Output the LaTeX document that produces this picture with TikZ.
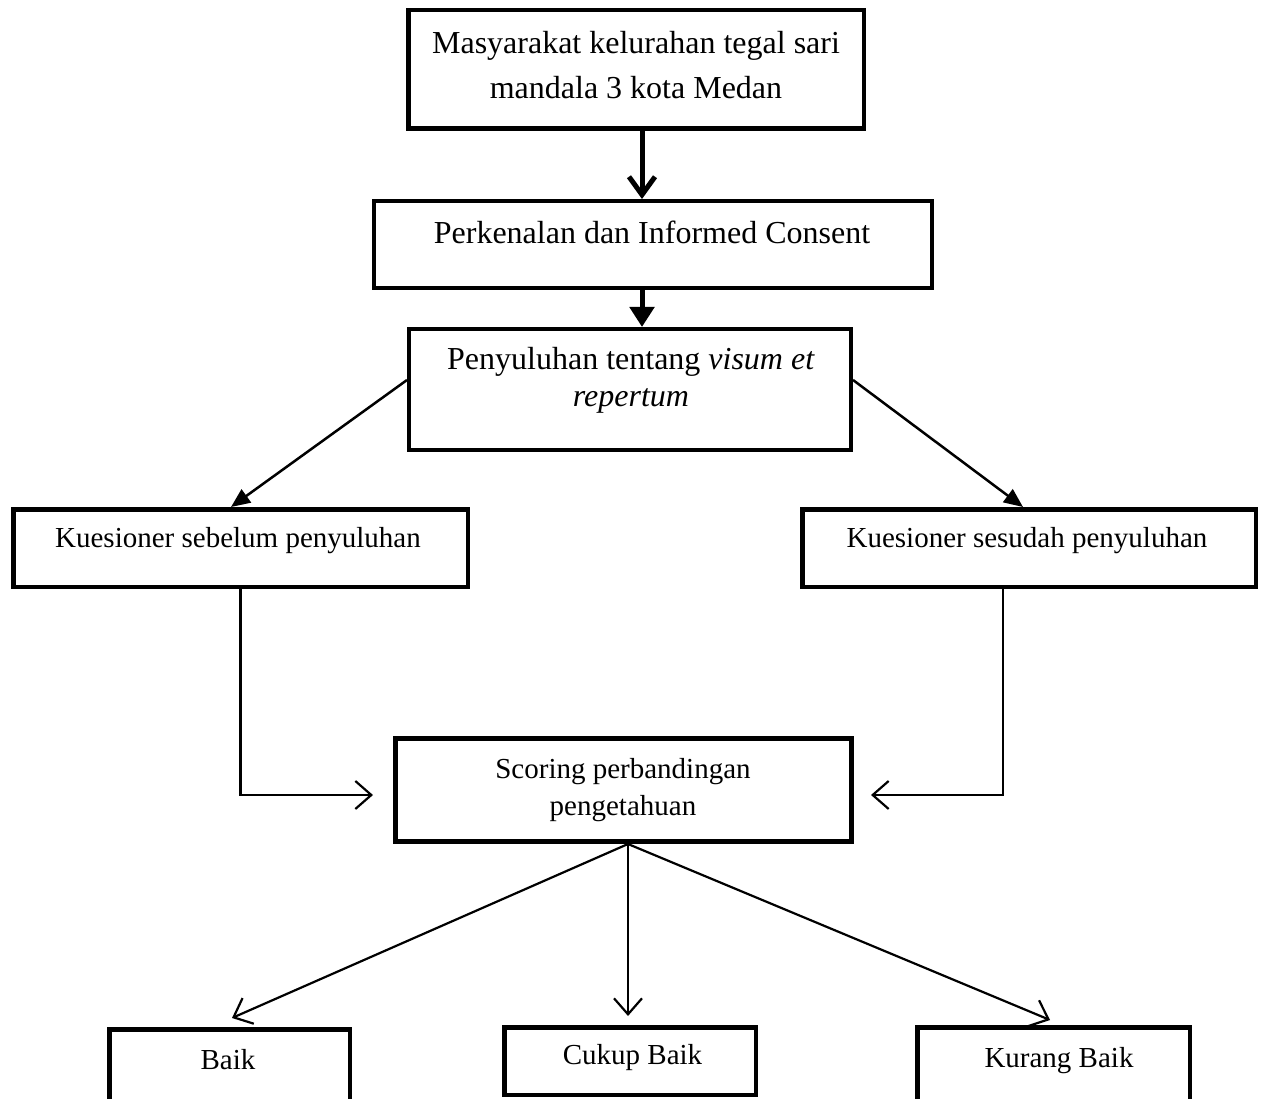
\documentclass[tikz,border=0pt]{standalone}
\usepackage{fontspec}
\setmainfont{Liberation Serif}
\usetikzlibrary{arrows.meta}
\begin{document}
\begin{tikzpicture}[x=1pt,y=-1pt,
  box/.style={draw=black,rectangle,inner sep=0pt},
  txt/.style={inner sep=0pt,align=center,font=\fontsize{29}{37}\selectfont},
  bigtxt/.style={inner sep=0pt,align=center,font=\fontsize{32}{45}\selectfont},
  thinline/.style={line width=2.2pt},
  openarrow/.style={-{Straight Barb[length=16pt,width=28pt]}},
  fillarrow/.style={-{Triangle[length=19pt,width=16pt]}},
]
\useasboundingbox (0,0) rectangle (1262,1099);
\fill[white] (0,0) rectangle (1262,1099);

% boxes
\node[box,line width=4.5pt,minimum width=455.5pt,minimum height=118.5pt] (b1) at (636,69.5) {};
\node[box,line width=4pt,minimum width=558pt,minimum height=87pt] (b2) at (653,244.5) {};
\node[box,line width=4pt,minimum width=442pt,minimum height=121pt] (b3) at (630,389.5) {};
\node[box,line width=4.5pt,minimum width=454.5pt,minimum height=77.5pt] (k1) at (240.5,548) {};
\node[box,line width=4.5pt,minimum width=453.5pt,minimum height=77.5pt] (k2) at (1029,548) {};
\node[box,line width=5pt,minimum width=456pt,minimum height=103pt] (sc) at (623.5,790) {};
\node[box,line width=4.5pt,minimum width=240.5pt,minimum height=71.5pt] (baik) at (229.5,1065) {};
\node[box,line width=4.5pt,minimum width=251.5pt,minimum height=67.5pt] (cukup) at (630,1061) {};
\node[box,line width=4.5pt,minimum width=272.5pt,minimum height=73.5pt] (kurang) at (1053.5,1064) {};

% texts
\node[bigtxt] (t1) at (636,65.5) {Masyarakat kelurahan tegal sari\\mandala 3 kota Medan};
\node[bigtxt] (t2) at (652,232) {Perkenalan dan Informed Consent};
\node[bigtxt,font=\fontsize{32}{37}\selectfont] (t3) at (631,380) {Penyuluhan tentang \textit{visum et}\\\textit{repertum}};
\node[txt] (tk1) at (238,541) {Kuesioner sebelum penyuluhan};
\node[txt] (tk2) at (1027,541) {Kuesioner sesudah penyuluhan};
\node[txt] (tsc) at (623,790) {Scoring perbandingan\\pengetahuan};
\node[txt] (tbaik) at (228,1060) {Baik};
\node[txt] (tcukup) at (632.5,1058) {Cukup Baik};
\node[txt] (tkurang) at (1059,1061) {Kurang Baik};

% connectors
\coordinate (ax) at (642,0);
\draw[line width=5pt,-{Straight Barb[length=18pt,width=26pt]}] (b1.south -| ax) -- (b2.north -| ax);
\draw[line width=5pt,-{Triangle[length=20pt,width=24pt]}] (b2.south -| ax) -- (b3.north -| ax);

\draw[line width=2.5pt,fillarrow] ([yshift=9.5pt]b3.west) -- ([xshift=-9.5pt]k1.north);
\draw[line width=2.5pt,fillarrow] ([yshift=9.5pt]b3.east) -- ([xshift=-6pt]k2.north);

\draw[thinline,openarrow] (k1.south) |- ([xshift=-20pt,yshift=-5pt]sc.west);
\draw[thinline,openarrow] ([xshift=-26pt]k2.south) |- ([xshift=17pt,yshift=-5pt]sc.east);

\coordinate (fan) at ([xshift=4.5pt]sc.south);
\draw[thinline,openarrow] (fan) -- ([xshift=2.5pt,yshift=9pt]baik.north);
\draw[thinline,openarrow] (fan) -- ([xshift=-2pt,yshift=9pt]cukup.north);
\draw[thinline,openarrow] (fan) -- ([xshift=-3.5pt,yshift=5pt]kurang.north);
\end{tikzpicture}
\end{document}
